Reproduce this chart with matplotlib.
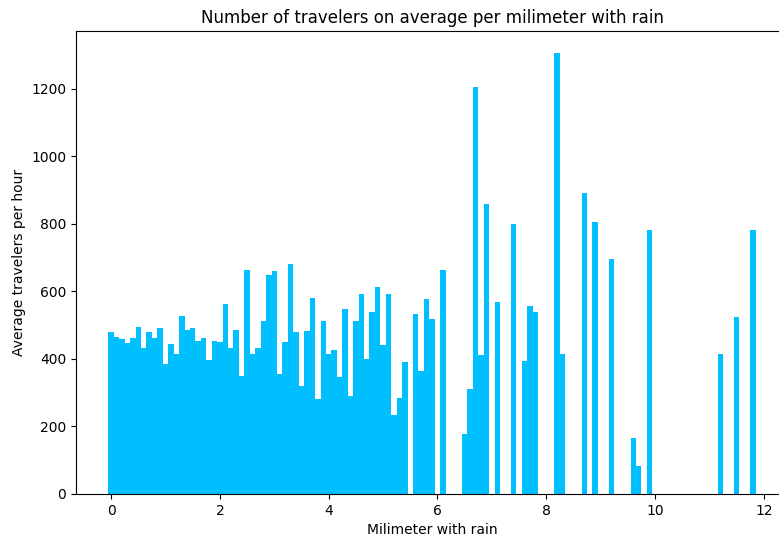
import matplotlib
matplotlib.use('Agg')
import matplotlib.pyplot as plt

# rain amount (mm), bins of 0.1 mm
rain_mm = [
    0.0, 0.1, 0.2, 0.3, 0.4, 0.5, 0.6, 0.7, 0.8, 0.9,
    1.0, 1.1, 1.2, 1.3, 1.4, 1.5, 1.6, 1.7, 1.8, 1.9,
    2.0, 2.1, 2.2, 2.3, 2.4, 2.5, 2.6, 2.7, 2.8, 2.9,
    3.0, 3.1, 3.2, 3.3, 3.4, 3.5, 3.6, 3.7, 3.8, 3.9,
    4.0, 4.1, 4.2, 4.3, 4.4, 4.5, 4.6, 4.7, 4.8, 4.9,
    5.0, 5.1, 5.2, 5.3, 5.4, 5.6, 5.7, 5.8, 5.9,
    6.1, 6.5, 6.6, 6.7, 6.8, 6.9, 7.1, 7.4, 7.6, 7.7, 7.8,
    8.2, 8.3, 8.7, 8.9, 9.2, 9.6, 9.7, 9.9,
    11.2, 11.5, 11.8,
]

avg_travelers = [
    479, 464, 458, 446, 461, 494, 431, 479, 461, 491,
    385, 445, 413, 527, 486, 491, 452, 463, 398, 452,
    449, 561, 432, 485, 350, 663, 413, 431, 512, 648,
    660, 356, 449, 681, 479, 319, 483, 581, 280, 511,
    413, 426, 347, 546, 290, 511, 591, 399, 540, 612,
    442, 593, 235, 283, 391, 534, 365, 576, 517,
    664, 177, 312, 1204, 410, 859, 567, 799, 394, 555, 539,
    1305, 413, 890, 806, 694, 166, 84, 780,
    414, 525, 780,
]

fig = plt.figure(figsize=(7.79, 5.37), dpi=100)
# the original picture is cropped on the right, so the axes run past the edge
ax = fig.add_axes([0.0976, 0.0801, 0.914, 0.8622])

ax.bar(rain_mm, avg_travelers, width=0.1, color='deepskyblue')
ax.set_title('Number of travelers on average per milimeter with rain')
ax.set_xlabel('Milimeter with rain')
ax.set_ylabel('Average travelers per hour')

fig.savefig('out.png', dpi=100)
